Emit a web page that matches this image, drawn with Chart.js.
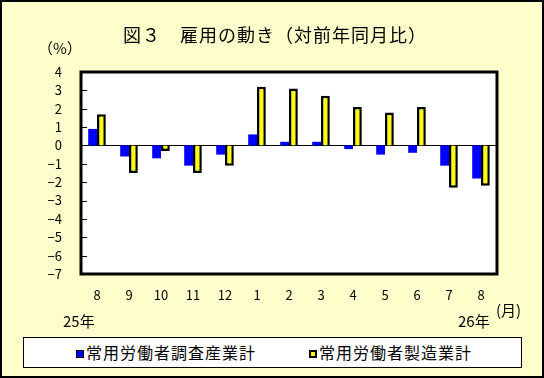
<!DOCTYPE html>
<html>
<head>
<meta charset="utf-8">
<script src="https://cdn.jsdelivr.net/npm/chart.js@4.4.1/dist/chart.umd.min.js"></script>
<style>
  html, body { margin: 0; padding: 0; }
  body { width: 544px; height: 378px; overflow: hidden; }
  #wrap { position: relative; width: 544px; height: 378px; background: #FFFFCC; box-sizing: border-box; border: 2px solid #000; }
  #c { position: absolute; left: -2px; top: -2px; }
  .t { position: absolute; font-family: 'Noto Sans CJK JP', sans-serif; color: #000; white-space: nowrap; line-height: 1; }
  #legend { position: absolute; left: 21px; top: 335px; width: 499px; height: 31px; background: #fff; border: 1px solid #000; box-sizing: border-box; }
  .sw { position: absolute; width: 8px; height: 8px; box-sizing: border-box; }
</style>
</head>
<body>
<div id="wrap">
  <canvas id="c" width="544" height="378"></canvas>
  <div class="t" id="title" style="left:121px; top:23px; font-size:18px; letter-spacing:1px;"></div>
  <div class="t" id="unitY" style="left:36px; top:38px; font-size:15px;"></div>
  <div class="t" id="yearA" style="left:61px; top:311px; font-size:15px;"></div>
  <div class="t" id="yearB" style="left:456px; top:311px; font-size:15px;"></div>
  <div class="t" id="unitX" style="left:494px; top:300px; font-size:15px;"></div>
  <div id="legend">
    <div class="sw" style="left:52px; top:12px; background:#0000FF; border:1px solid #000;"></div>
    <div class="t" id="lg1" style="left:62px; top:6px; font-size:16px; letter-spacing:1px;"></div>
    <div class="sw" style="left:285px; top:12px; background:#FFFF00; border:2px solid #000;"></div>
    <div class="t" id="lg2" style="left:295px; top:6px; font-size:16px; letter-spacing:1px;"></div>
  </div>
</div>
<script>
const titleText = '図３　雇用の動き（対前年同月比）';
const yUnit = '（%）';
const xUnit = '(月)';
const yearLabels = ['25年', '26年'];
const months = ['8', '9', '10', '11', '12', '1', '2', '3', '4', '5', '6', '7', '8'];
const seriesNames = ['常用労働者調査産業計', '常用労働者製造業計'];
const allIndustries = [0.9, -0.6, -0.7, -1.1, -0.5, 0.6, 0.2, 0.2, -0.2, -0.5, -0.4, -1.1, -1.8];
const manufacturing = [1.7, -1.5, -0.3, -1.5, -1.1, 3.2, 3.1, 2.7, 2.1, 1.8, 2.1, -2.3, -2.2];
const yMin = -7, yMax = 4, yStep = 1;

document.getElementById('title').textContent = titleText;
document.getElementById('unitY').textContent = yUnit;
document.getElementById('unitX').textContent = xUnit;
document.getElementById('yearA').textContent = yearLabels[0];
document.getElementById('yearB').textContent = yearLabels[1];
document.getElementById('lg1').textContent = seriesNames[0];
document.getElementById('lg2').textContent = seriesNames[1];

const FONT = "'Noto Sans CJK JP', sans-serif";

const framePlugin = {
  id: 'frame',
  beforeDraw(chart) {
    const { ctx, chartArea: a } = chart;
    ctx.save();
    ctx.fillStyle = '#FFFFFF';
    ctx.fillRect(a.left, a.top, a.right - a.left, a.bottom - a.top);
    ctx.restore();
  },
  beforeDatasetsDraw(chart) {
    const { ctx, chartArea: a, scales } = chart;
    const y = scales.y;
    ctx.save();
    ctx.strokeStyle = '#000';
    ctx.lineWidth = 1;
    for (let v = yMin; v <= yMax; v += yStep) {
      const py = Math.round(y.getPixelForValue(v)) + 0.5;
      ctx.beginPath();
      ctx.moveTo(a.left, py);
      ctx.lineTo(a.left + 6, py);
      ctx.stroke();
    }
    const z = Math.round(y.getPixelForValue(0)) + 0.5;
    ctx.beginPath();
    ctx.moveTo(a.left, z);
    ctx.lineTo(a.right, z);
    ctx.stroke();
    ctx.restore();
  },
  afterDraw(chart) {
    const { ctx, chartArea: a } = chart;
    ctx.save();
    ctx.strokeStyle = '#000';
    ctx.lineWidth = 3;
    ctx.strokeRect(a.left, a.top, a.right - a.left, a.bottom - a.top);
    ctx.restore();
  }
};

new Chart(document.getElementById('c'), {
  type: 'bar',
  data: {
    labels: months,
    datasets: [
      { label: seriesNames[0], data: allIndustries, backgroundColor: '#0000FF', borderWidth: 0 },
      { label: seriesNames[1], data: manufacturing, backgroundColor: '#FFFF00', borderColor: '#000000', borderWidth: 2.5 }
    ]
  },
  options: {
    responsive: false,
    animation: false,
    devicePixelRatio: 1,
    layout: { padding: { top: 72, left: 0, right: 47, bottom: 74 } },
    plugins: { legend: { display: false }, tooltip: { enabled: false }, title: { display: false } },
    datasets: { bar: { categoryPercentage: 0.55, barPercentage: 1.0 } },
    scales: {
      x: {
        grid: { display: false, drawTicks: false },
        border: { display: false },
        ticks: { color: '#000', font: { family: FONT, size: 13 }, padding: 13, maxRotation: 0, autoSkip: false },
        afterFit(s) { s.height = 30; }
      },
      y: {
        min: yMin, max: yMax,
        grid: { display: false, drawTicks: false },
        border: { display: false },
        ticks: {
          stepSize: yStep, autoSkip: false, color: '#000', font: { family: FONT, size: 13 }, padding: 19,
          callback: v => String(v).replace('-', '−')
        },
        afterFit(s) { s.width = 81; }
      }
    }
  },
  plugins: [framePlugin]
});
</script>
</body>
</html>
